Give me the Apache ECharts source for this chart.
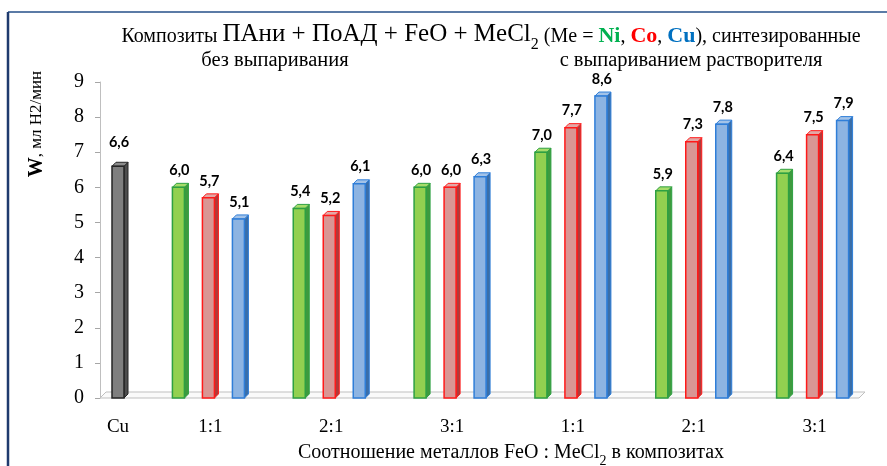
<!DOCTYPE html>
<html><head><meta charset="utf-8">
<script src="https://cdn.jsdelivr.net/npm/echarts@6/dist/echarts.min.js"></script>
<style>html,body{margin:0;padding:0;background:#fff}#c{width:887px;height:466px}</style>
</head><body><div id="c"></div>
<script>
// ---- data ----
const refCategory = ['Cu'];
const refValues = [6.6];
const ratioCategories = ['1:1', '2:1', '3:1', '1:1', '2:1', '3:1'];
const niValues = [6.0, 5.4, 6.0, 7.0, 5.9, 6.4];
const coValues = [5.7, 5.2, 6.0, 7.7, 7.3, 7.5];
const cuValues = [5.1, 6.1, 6.3, 8.6, 7.8, 7.9];
const yMin = 0, yMax = 9, yStep = 1;

const SERIF = 'Liberation Serif';

function bar3d(offset, fill, stroke, side, top, labelGap) {
  return function (params, api) {
    const cat = api.value(0), v = api.value(1);
    const p = api.coord([cat, v]);
    const b = api.coord([cat, 0]);
    const cx = p[0] + offset;
    const x0 = cx - 8, x1 = cx + 4, d = 4;
    const yt = p[1], yb = b[1];
    return {
      type: 'group', children: [
        { type: 'polygon', shape: { points: [[x1, yt], [x1 + d, yt - d], [x1 + d, yb - d], [x1, yb]] }, style: { fill: side, stroke: stroke, lineWidth: 1 } },
        { type: 'polygon', shape: { points: [[x0, yt], [x0 + d, yt - d], [x1 + d, yt - d], [x1, yt]] }, style: { fill: top, stroke: stroke, lineWidth: 1 } },
        { type: 'rect', shape: { x: x0, y: yt, width: x1 - x0, height: yb - yt }, style: { fill: fill, stroke: stroke, lineWidth: 1.5 } },
        { type: 'text', style: { text: v.toFixed(1).replace('.', ','), x: cx - 1, y: yt - labelGap, align: 'center', verticalAlign: 'middle', fontFamily: 'Lato', fontWeight: 'bold', fontSize: 14.5, fill: '#000' } }
      ]
    };
  };
}

const toPairs = arr => arr.map((v, i) => [i, v]);

const chart = echarts.init(document.getElementById('c'), null, { renderer: 'canvas' });
const yAxisBase = { type: 'value', min: yMin, max: yMax, interval: yStep, splitLine: { show: false } };
chart.setOption({
  animation: false,
  backgroundColor: '#fff',
  grid: [
    { left: 100, width: 40, top: 82, bottom: 68 },
    { left: 150, width: 725, top: 82, bottom: 68 }
  ],
  xAxis: [
    { type: 'category', gridIndex: 0, data: refCategory, axisLine: { show: false }, axisTick: { show: false },
      axisLabel: { margin: 20, fontFamily: SERIF, fontSize: 19, color: '#000', padding: [0, 4, 0, 0] } },
    { type: 'category', gridIndex: 1, data: ratioCategories, axisLine: { show: false }, axisTick: { show: false },
      axisLabel: { margin: 20, fontFamily: SERIF, fontSize: 19, color: '#000' } }
  ],
  yAxis: [
    Object.assign({}, yAxisBase, { gridIndex: 0,
      axisLine: { show: true, lineStyle: { color: '#BFBFBF', width: 1 } },
      axisTick: { show: true, length: 5, lineStyle: { color: '#A6A6A6' } },
      axisLabel: { margin: 16, fontFamily: SERIF, fontSize: 20, color: '#000' } }),
    Object.assign({}, yAxisBase, { gridIndex: 1, show: false })
  ],
  graphic: [
    { type: 'polygon', z: 0, shape: { points: [[100, 398], [859, 398], [865, 392], [106, 392]] }, style: { fill: '#FAFAFA', stroke: '#BFBFBF', lineWidth: 1 } },
    { type: 'line', shape: { x1: 8, y1: 12, x2: 887, y2: 12 }, style: { stroke: '#5B7BA6', lineWidth: 2 } },
    { type: 'line', shape: { x1: 8, y1: 12, x2: 8, y2: 466 }, style: { stroke: '#1F3B6E', lineWidth: 2.5 } },
    { type: 'text', x: 491, y: 34,
      style: {
        text: '{a|Композиты }{b|ПАни + ПоАД + FeO + MeCl}{s|2}{a| (Me = }{ni|Ni}{a|, }{co|Co}{a|, }{cu|Cu}{a|), синтезированные}',
        align: 'center', verticalAlign: 'middle',
        rich: {
          a: { fontFamily: SERIF, fontSize: 20, fill: '#000', verticalAlign: 'bottom', lineHeight: 26 },
          b: { fontFamily: SERIF, fontSize: 25, fill: '#000', verticalAlign: 'bottom', lineHeight: 26 },
          s: { fontFamily: SERIF, fontSize: 16, fill: '#000', verticalAlign: 'bottom', lineHeight: 20, padding: [0, 0, -6, 0] },
          ni: { fontFamily: SERIF, fontSize: 22, fontWeight: 'bold', fill: '#00B050', verticalAlign: 'bottom', lineHeight: 26 },
          co: { fontFamily: SERIF, fontSize: 22, fontWeight: 'bold', fill: '#FF0000', verticalAlign: 'bottom', lineHeight: 26 },
          cu: { fontFamily: SERIF, fontSize: 22, fontWeight: 'bold', fill: '#0070C0', verticalAlign: 'bottom', lineHeight: 26 }
        }
      } },
    { type: 'text', x: 275, y: 61, style: { text: 'без выпаривания', fontFamily: SERIF, fontSize: 20.5, fill: '#000', align: 'center', verticalAlign: 'middle' } },
    { type: 'text', x: 691, y: 61, style: { text: 'с выпариванием растворителя', fontFamily: SERIF, fontSize: 20.5, fill: '#000', align: 'center', verticalAlign: 'middle' } },
    { type: 'text', x: 37, y: 124, rotation: Math.PI / 2,
      style: {
        text: '{w|W}{n|, мл Н2/мин}', align: 'center', verticalAlign: 'middle',
        rich: {
          w: { fontFamily: SERIF, fontSize: 20, fontWeight: 'bold', fill: '#000' },
          n: { fontFamily: SERIF, fontSize: 17, fill: '#000' }
        }
      } },
    { type: 'text', x: 511, y: 452,
      style: {
        text: '{a|Соотношение металлов FeO : MeCl}{s|2}{a| в композитах}', align: 'center', verticalAlign: 'middle',
        rich: {
          a: { fontFamily: SERIF, fontSize: 20, fill: '#000', verticalAlign: 'bottom', lineHeight: 22 },
          s: { fontFamily: SERIF, fontSize: 14, fill: '#000', verticalAlign: 'bottom', lineHeight: 16, padding: [0, 0, -5, 0] }
        }
      } }
  ],
  series: [
    { type: 'custom', xAxisIndex: 0, yAxisIndex: 0, data: toPairs(refValues), renderItem: bar3d(0, '#7F7F7F', '#262626', '#4D4D4D', '#8C8C8C', 24), z: 3 },
    { type: 'custom', xAxisIndex: 1, yAxisIndex: 1, data: toPairs(niValues), renderItem: bar3d(-30, '#92D050', '#2EA043', '#3E9A3E', '#A6DC6A', 17), z: 3 },
    { type: 'custom', xAxisIndex: 1, yAxisIndex: 1, data: toPairs(coValues), renderItem: bar3d(0, '#D99694', '#FF1A1A', '#B03A3A', '#E2A8A6', 17), z: 3 },
    { type: 'custom', xAxisIndex: 1, yAxisIndex: 1, data: toPairs(cuValues), renderItem: bar3d(30, '#8DB4E2', '#2F7ED8', '#3A6EA8', '#A3C3E8', 17), z: 3 }
  ]
});
</script>
</body></html>
